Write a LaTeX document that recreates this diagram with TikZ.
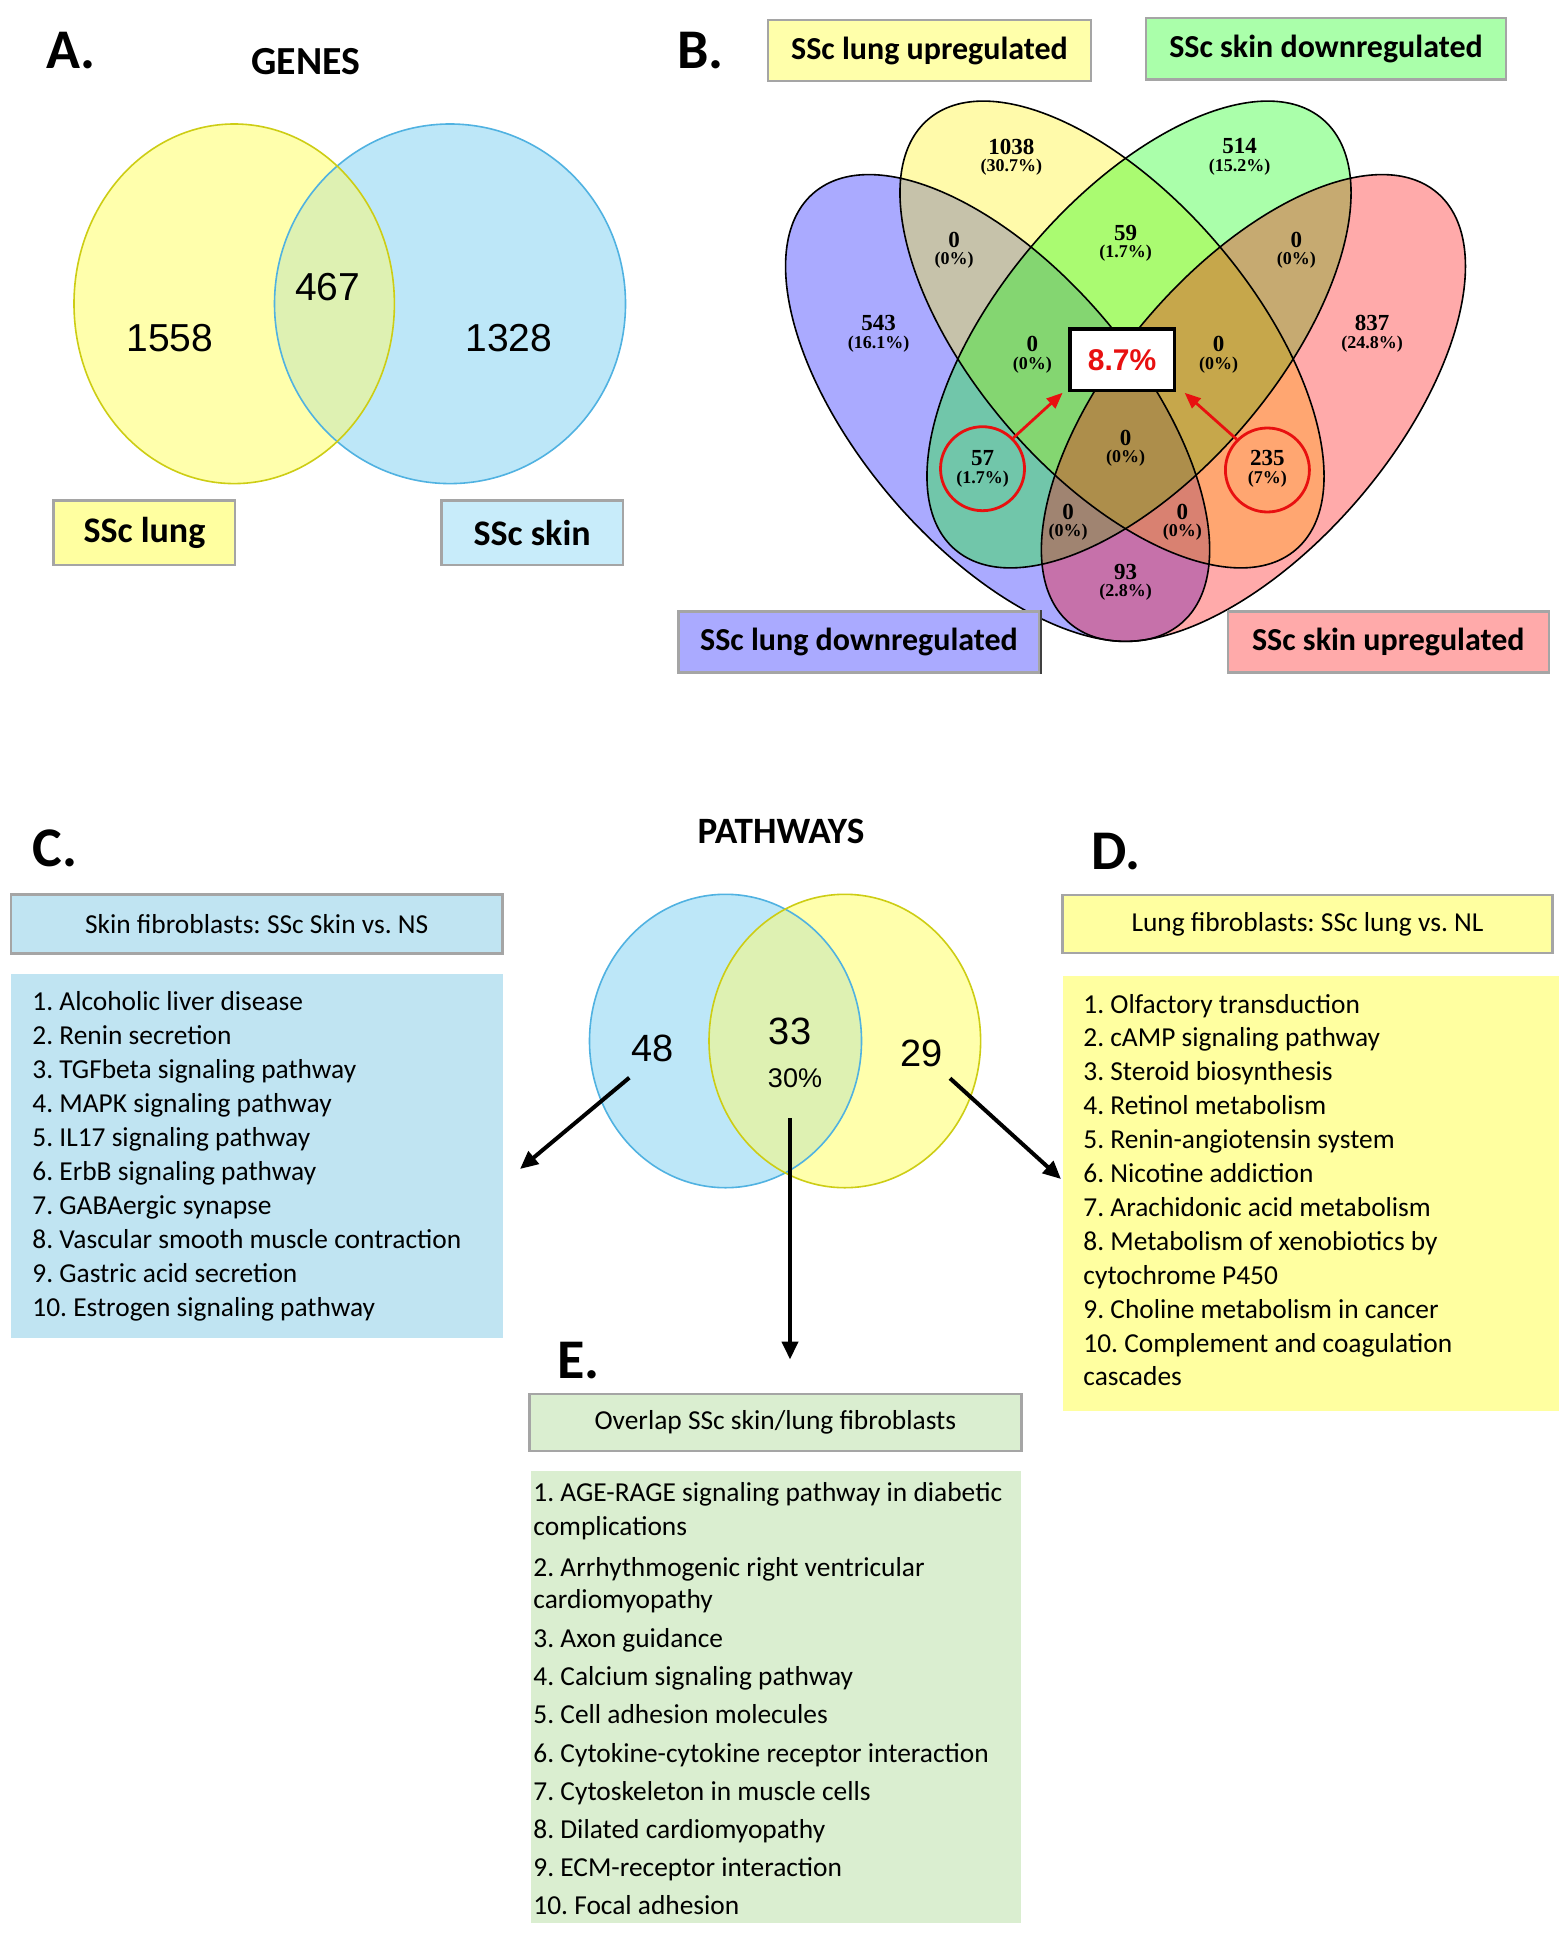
\documentclass[tikz,border=0pt]{standalone}
\usepackage{fontspec}
\setmainfont{Carlito}
\newfontfamily\arialf{Liberation Sans}
\newfontfamily\timesf{Liberation Serif}
\usetikzlibrary{arrows.meta,calc}
\frenchspacing
\definecolor{yelA}{RGB}{255,255,172}
\definecolor{yelAline}{RGB}{205,205,20}
\definecolor{bluA}{RGB}{189,231,248}
\definecolor{bluAline}{RGB}{80,178,225}
\definecolor{ovA}{RGB}{222,241,178}
\definecolor{boxgray}{RGB}{165,165,165}
\definecolor{cfill}{RGB}{192,228,242}
\definecolor{dfill}{RGB}{255,255,160}
\definecolor{efill}{RGB}{218,238,208}
\definecolor{labY}{RGB}{255,255,170}
\definecolor{labG}{RGB}{170,255,170}
\definecolor{labB}{RGB}{170,170,255}
\definecolor{labR}{RGB}{255,170,170}
\definecolor{labYA}{RGB}{255,255,160}
\definecolor{labBA}{RGB}{200,236,250}
\definecolor{vred}{RGB}{232,16,16}
\tikzset{
 listtxt/.style={anchor=base west, inner sep=0pt, font=\fontsize{13.7}{16}\selectfont},
 hdr/.style={draw=boxgray, line width=1.2pt, inner sep=0pt, font=\fontsize{13.7}{16}\selectfont},
 listbox/.style={anchor=north west, inner sep=0pt},
 lbl/.style={draw=boxgray, line width=1.2pt, inner sep=0pt, font=\bfseries\fontsize{16}{19}\selectfont},
 lblA/.style={draw=boxgray, line width=1.2pt, inner sep=0pt, font=\bfseries\fontsize{18}{21}\selectfont},
 panel/.style={anchor=base west, inner sep=0pt, font=\bfseries\fontsize{28}{30}\selectfont},
 ttl/.style={anchor=base, inner sep=0pt, font=\bfseries\fontsize{19.9}{22}\selectfont},
 vnum/.style={inner sep=0pt, font=\timesf\bfseries\fontsize{11.5}{12}\selectfont},
 vpct/.style={inner sep=0pt, font=\timesf\bfseries\fontsize{9}{10}\selectfont},
 bignum/.style={inner sep=0pt, font=\arialf\fontsize{19.5}{22}\selectfont},
 midnum/.style={inner sep=0pt, font=\arialf\fontsize{13.5}{16}\selectfont},
 arr/.style={-{Triangle[length=9pt,width=8pt]}, line width=2pt},
 redarr/.style={-{Triangle[length=8pt,width=6.5pt]}, line width=1.4pt, draw=vred, fill=vred},
 redcirc/.style={circle, draw=vred, line width=1.4pt, minimum size=42pt, inner sep=0pt},
 vline/.style={draw=black, line width=0.8pt},
}
\newcommand\vlab[5]{%
 \node[vnum] (#1) at (#2,#3) {#4};
 \node[vpct] (#1p) at (#2,#3+20.5) {#5};}
\begin{document}
\begin{tikzpicture}[x=0.5pt,y=-0.5pt]
\useasboundingbox[fill=white] (0,0) rectangle (1559,1941);

% ---------------- Panel A ----------------
\node[panel] (pA) at (46,69) {A.};
\node[ttl] (genes) at (306,75) {GENES};
\fill[yelA] (234.2,303.8) ellipse[x radius=80.1pt, y radius=89.9pt];
\fill[bluA] (450,303.8) ellipse[x radius=87.75pt, y radius=89.9pt];
\begin{scope}
 \clip (234.2,303.8) ellipse[x radius=80.1pt, y radius=89.9pt];
 \fill[ovA] (450,303.8) ellipse[x radius=87.75pt, y radius=89.9pt];
\end{scope}
\draw[bluAline, line width=0.8pt] (450,303.8) ellipse[x radius=87.75pt, y radius=89.9pt];
\draw[yelAline, line width=0.8pt] (234.2,303.8) ellipse[x radius=80.1pt, y radius=89.9pt];
\node[bignum] (a1558) at (170,338) {1558};
\node[bignum] (a467) at (327.6,286.7) {467};
\node[bignum] (a1328) at (508.7,338) {1328};
\node[lblA, fill=labYA, minimum width=90.8pt, minimum height=32.15pt] (lunglab) at (144.4,532.65) {SSc lung};
\node[lblA, fill=labBA, minimum width=90.85pt, minimum height=32.15pt] (skinlab) at (532.15,532.65) {SSc skin};

% ---------------- Panel B ----------------
\node[panel] (pB) at (677,69) {B.};
\fill[blue, fill opacity=0.333, rotate around={-49.5:(997.6,408)}] (997.6,408) ellipse[x radius=141.5pt, y radius=69.5pt];
\fill[yellow, fill opacity=0.333, rotate around={-49.5:(1112,334.5)}] (1112,334.5) ellipse[x radius=141.5pt, y radius=69.5pt];
\fill[green, fill opacity=0.333, rotate around={49.5:(1139,334.5)}] (1139,334.5) ellipse[x radius=141.5pt, y radius=69.5pt];
\fill[red, fill opacity=0.333, rotate around={49.5:(1253.4,408)}] (1253.4,408) ellipse[x radius=141.5pt, y radius=69.5pt];
\draw[vline, rotate around={-49.5:(997.6,408)}] (997.6,408) ellipse[x radius=141.5pt, y radius=69.5pt];
\draw[vline, rotate around={-49.5:(1112,334.5)}] (1112,334.5) ellipse[x radius=141.5pt, y radius=69.5pt];
\draw[vline, rotate around={49.5:(1139,334.5)}] (1139,334.5) ellipse[x radius=141.5pt, y radius=69.5pt];
\draw[vline, rotate around={49.5:(1253.4,408)}] (1253.4,408) ellipse[x radius=141.5pt, y radius=69.5pt];

\vlab{r1038}{1011.4}{146.5}{1038}{(30.7\%)}
\vlab{r514}{1239.5}{146.5}{514}{(15.2\%)}
\vlab{rBY}{954.1}{239.6}{0}{(0\%)}
\vlab{r59}{1125.5}{232.6}{59}{(1.7\%)}
\vlab{rGP}{1296.3}{239.6}{0}{(0\%)}
\vlab{r543}{878.7}{323.4}{543}{(16.1\%)}
\vlab{r837}{1372.2}{323.4}{837}{(24.8\%)}
\vlab{rBYG}{1032.3}{344.4}{0}{(0\%)}
\vlab{rYGP}{1218.6}{344.4}{0}{(0\%)}
\vlab{rall}{1125.5}{437.5}{0}{(0\%)}
\vlab{r57}{982.5}{458.4}{57}{(1.7\%)}
\vlab{r235}{1267.4}{458.4}{235}{(7\%)}
\vlab{rBGP}{1068.2}{512}{0}{(0\%)}
\vlab{rBYP}{1182.3}{512}{0}{(0\%)}
\vlab{r93}{1125.5}{571.5}{93}{(2.8\%)}

\node[draw=black, fill=white, line width=1.85pt, minimum width=52.35pt, minimum height=30.75pt, inner sep=0pt,
      text=vred, font=\arialf\bfseries\fontsize{15}{17}\selectfont] (pctbox) at (1122,359.8) {8.7\%};
\node[redcirc] (c57) at (982.5,468.7) {};
\node[redcirc] (c235) at (1267.4,470) {};
\coordinate (t57) at (1062.6,392.8);
\coordinate (t235) at (1184.6,392.8);
\draw[redarr] (c57.45) -- (t57);
\draw[redarr] (c235.135) -- (t235);

\node[lbl, fill=labY, minimum width=161.7pt, minimum height=30.6pt] (lup) at (929.5,50.7) {SSc lung upregulated};
\node[lbl, fill=labG, minimum width=179.75pt, minimum height=30.8pt] (sdown) at (1326,48.7) {SSc skin downregulated};
\node[lbl, fill=labB, minimum width=180.6pt, minimum height=30.35pt] (ldown) at (859,642) {SSc lung downregulated};
\draw[black!75, line width=1pt] (ldown.north east) -- (ldown.south east);
\node[lbl, fill=labR, minimum width=160.5pt, minimum height=30.35pt] (sup) at (1388.3,642) {SSc skin upregulated};

% ---------------- Pathways ----------------
\node[panel] (pC) at (32,866) {C.};
\node[panel] (pD) at (1091,869) {D.};
\node[panel] (pE) at (557,1378) {E.};
\node[ttl, font=\bfseries\fontsize{18.6}{21}\selectfont] (paths) at (781,843) {PATHWAYS};

\fill[bluA] (725.5,1041) ellipse[x radius=68pt, y radius=73.35pt];
\fill[yelA] (844.8,1041) ellipse[x radius=67.9pt, y radius=73.35pt];
\begin{scope}
 \clip (725.5,1041) ellipse[x radius=68pt, y radius=73.35pt];
 \fill[ovA] (844.8,1041) ellipse[x radius=67.9pt, y radius=73.35pt];
\end{scope}
\draw[bluAline, line width=0.8pt] (725.5,1041) ellipse[x radius=68pt, y radius=73.35pt];
\draw[yelAline, line width=0.8pt] (844.8,1041) ellipse[x radius=67.9pt, y radius=73.35pt];
\node[bignum, font=\arialf\fontsize{19}{22}\selectfont] (p48) at (652.3,1048.3) {48};
\node[bignum, font=\arialf\fontsize{19}{22}\selectfont] (p33) at (790,1031.7) {33};
\node[midnum] (p30) at (795,1078.3) {30\%};
\node[bignum, font=\arialf\fontsize{19}{22}\selectfont] (p29) at (921.7,1053.3) {29};

% C
\node[hdr, fill=cfill, minimum width=245.9pt, minimum height=29.5pt] (chdr) at (256.7,924.1) {Skin fibroblasts: SSc Skin vs. NS};
\node[listbox, fill=cfill, minimum width=245.9pt, minimum height=182.15pt] (clist) at (10.8,973.2) {};
\foreach \yy/\txt [count=\i] in {1010/{1. Alcoholic liver disease},1044/{2. Renin secretion},1078/{3. TGFbeta signaling pathway},1112/{4. MAPK signaling pathway},1146/{5. IL17 signaling pathway},1180/{6. ErbB signaling pathway},1214/{7. GABAergic synapse},1248/{8. Vascular smooth muscle contraction},1282/{9. Gastric acid secretion},1316/{10. Estrogen signaling pathway}}
 {\node[listtxt] (cl\i) at (32,\yy) {\txt};}

% D
\node[hdr, fill=dfill, minimum width=245.1pt, minimum height=29.05pt] (dhdr) at (1307.5,923.95) {Lung fibroblasts: SSc lung vs. NL};
\node[listbox, fill=dfill, minimum width=248.3pt, minimum height=217.35pt] (dlist) at (1062.4,975.8) {};
\foreach \yy/\txt [count=\i] in {1013/{1. Olfactory transduction},1046.9/{2. cAMP signaling pathway},1080.8/{3. Steroid biosynthesis},1114.7/{4. Retinol metabolism},1148.6/{5. Renin-angiotensin system},1182.5/{6. Nicotine addiction},1216.4/{7. Arachidonic acid metabolism},1250.3/{8. Metabolism of xenobiotics by},1284.2/{cytochrome P450},1318.1/{9. Choline metabolism in cancer},1352/{10. Complement and coagulation},1385.9/{cascades}}
 {\node[listtxt] (dl\i) at (1083,\yy) {\txt};}

% E
\node[hdr, fill=efill, minimum width=246pt, minimum height=28.75pt] (ehdr) at (775.35,1422.45) {Overlap SSc skin/lung fibroblasts};
\node[listbox, fill=efill, minimum width=245.15pt, minimum height=225.8pt] (elist) at (530.4,1471) {};
\foreach \yy/\txt [count=\i] in {1501.3/{1. AGE-RAGE signaling pathway in diabetic},1535/{complications},1576/{2. Arrhythmogenic right ventricular},1608.6/{cardiomyopathy},1647/{3. Axon guidance},1685.3/{4. Calcium signaling pathway},1723.6/{5. Cell adhesion molecules},1762/{6. Cytokine-cytokine receptor interaction},1800.3/{7. Cytoskeleton in muscle cells},1838/{8. Dilated cardiomyopathy},1876/{9. ECM-receptor interaction},1914.5/{10. Focal adhesion}}
 {\node[listtxt] (el\i) at (533,\yy) {\txt};}

% arrows
\coordinate (la0) at (629.3,1077.7);
\coordinate (la1) at (520,1169);
\coordinate (ra0) at (950,1078.3);
\coordinate (ra1) at (1061,1179);
\coordinate (da0) at (790,1118.3);
\coordinate (da1) at (790,1359.5);
\draw[arr] (la0) -- (la1);
\draw[arr] (ra0) -- (ra1);
\draw[arr] (da0) -- (da1);
\end{tikzpicture}
\end{document}
